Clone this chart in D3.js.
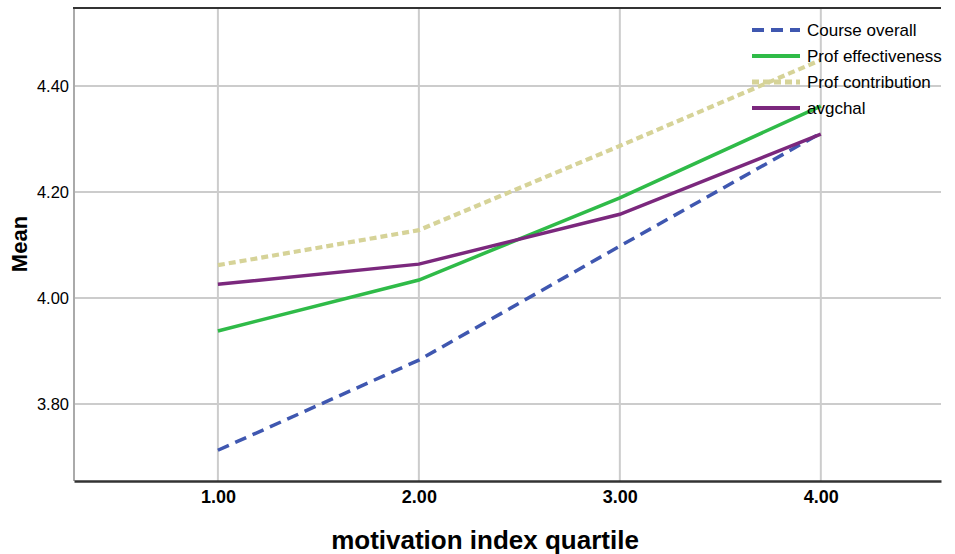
<!DOCTYPE html>
<html><head><meta charset="utf-8">
<script src="https://cdn.jsdelivr.net/npm/d3@7/dist/d3.min.js"></script>
<style>body{margin:0;background:#fff}svg{display:block;font-family:Arial,"Liberation Sans",sans-serif}</style>
</head><body><svg id="c" width="955" height="554"></svg>
<script>
const quartiles = [1, 2, 3, 4];
const xTickLabels = ["1.00", "2.00", "3.00", "4.00"];
const yTicks = [3.8, 4.0, 4.2, 4.4];
const seriesNames = ["Course overall", "Prof effectiveness", "Prof contribution", "avgchal"];
const courseOverall = [3.713, 3.883, 4.098, 4.311];
const profEffectiveness = [3.938, 4.034, 4.189, 4.362];
const profContribution = [4.062, 4.128, 4.287, 4.449];
const avgchal = [4.026, 4.064, 4.158, 4.309];

const colors = ["#3f57b0", "#2fbb48", "#d6d398", "#7b287d"];
const dashes = ["12,7", null, "7,4", null];
const widths = [3.5, 3.5, 4.2, 3.5];
const seriesValues = [courseOverall, profEffectiveness, profContribution, avgchal];

const svg = d3.select("#c");
const L = 74, R = 941, T = 8, B = 481;
const x = d3.scaleLinear().domain([0.284, 4.598]).range([L, R]);
const y = d3.scaleLinear().domain([3.655, 4.547]).range([B, T]);
const FONT = "Arial, Liberation Sans, sans-serif";

// gridlines
svg.append("g").selectAll("line").data(yTicks).join("line")
  .attr("x1", L).attr("x2", R).attr("y1", d => y(d)).attr("y2", d => y(d))
  .attr("stroke", "#cccccc").attr("stroke-width", 2);
svg.append("g").selectAll("line").data(quartiles).join("line")
  .attr("x1", d => x(d)).attr("x2", d => x(d)).attr("y1", T).attr("y2", B)
  .attr("stroke", "#cccccc").attr("stroke-width", 2);

// frame
svg.append("line").attr("x1", L).attr("x2", L).attr("y1", T).attr("y2", B).attr("stroke", "#aaaaaa").attr("stroke-width", 2);
svg.append("line").attr("x1", L - 1).attr("x2", R).attr("y1", T).attr("y2", T).attr("stroke", "#333").attr("stroke-width", 2);

// axes
const xAxis = d3.axisBottom(x).tickValues(quartiles).tickFormat((d, i) => xTickLabels[i]).tickSize(0).tickPadding(9);
const gx = svg.append("g").attr("transform", `translate(0,${B})`).call(xAxis);
gx.select(".domain").attr("stroke", "#333").attr("stroke-width", 2.5);
gx.selectAll("text").attr("font-size", 18).attr("font-weight", "bold").attr("fill", "#000").attr("font-family", FONT);

const yAxis = d3.axisLeft(y).tickValues(yTicks).tickFormat(d3.format(".2f")).tickSize(0).tickPadding(5);
const gy = svg.append("g").attr("transform", `translate(${L},0)`).call(yAxis);
gy.select(".domain").remove();
gy.selectAll("text").attr("font-size", 16.5).attr("fill", "#000").attr("font-family", FONT);

// lines
const line = d3.line().x((d, i) => x(quartiles[i])).y(d => y(d));
seriesValues.forEach((vals, k) => {
  svg.append("path").datum(vals).attr("d", line).attr("fill", "none")
    .attr("stroke", colors[k]).attr("stroke-width", widths[k])
    .attr("stroke-dasharray", dashes[k]);
});

// legend
const lg = svg.append("g");
seriesNames.forEach((n, k) => {
  const yy = 30 + k * 26;
  lg.append("line").attr("x1", 752).attr("x2", 800).attr("y1", yy).attr("y2", yy)
    .attr("stroke", colors[k]).attr("stroke-width", k === 2 ? 5 : 4).attr("stroke-dasharray", dashes[k]);
  lg.append("text").attr("x", 807).attr("y", yy + 6).attr("font-size", 17).text(n);
});

// titles
svg.append("text").attr("transform", "translate(27,244) rotate(-90)").attr("text-anchor", "middle")
  .attr("font-size", 22).attr("font-weight", "bold").text("Mean");
svg.append("text").attr("x", 485).attr("y", 549).attr("text-anchor", "middle")
  .attr("font-size", 26).attr("font-weight", "bold").text("motivation index quartile");
</script></body></html>
